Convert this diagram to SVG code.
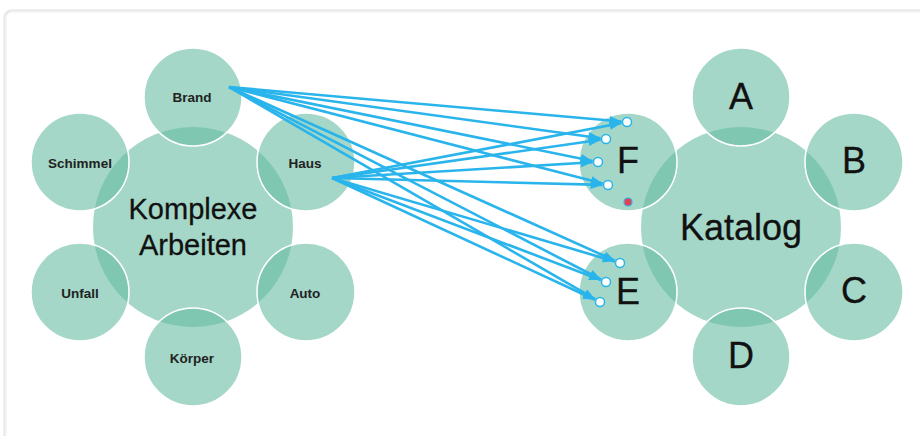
<svg xmlns="http://www.w3.org/2000/svg" width="920" height="436" viewBox="0 0 920 436">
  <defs>
    <style>
      .main { fill: #68bda2; fill-opacity: 0.6; }
      .sat { fill: #68bda2; fill-opacity: 0.6; stroke: #ffffff; stroke-width: 1.5; }
      .big { font-family: "Liberation Sans", Arial, sans-serif; font-size: 29px; fill: #111; text-anchor: middle; stroke: #111; stroke-width: 0.3; }
      .cat { font-family: "Liberation Sans", Arial, sans-serif; font-size: 36px; fill: #111; text-anchor: middle; stroke: #111; stroke-width: 0.3; }
      .small { font-family: "Liberation Sans", Arial, sans-serif; font-size: 13.5px; font-weight: bold; fill: #222; text-anchor: middle; }
      .link { stroke: #2ab4ec; stroke-width: 2.6; fill: none; marker-end: url(#head); }
      .port { fill: #ffffff; stroke: #2ab4ec; stroke-width: 1.5; }
      .port-red { fill: #e8404f; stroke: #2ab4ec; stroke-width: 1.2; }
    </style>
    <marker id="head" markerUnits="userSpaceOnUse" markerWidth="13" markerHeight="10" refX="12" refY="4.5" orient="auto">
      <path d="M0,0 L12,4.5 L0,9 z" fill="#2ab4ec"/>
    </marker>
  </defs>

  <rect width="920" height="436" fill="#ffffff"/>
  <!-- page frame -->
  <rect x="4.5" y="10.5" width="940" height="450" rx="7" fill="none" stroke="#e6e6e6" stroke-width="2"/>
  <rect x="6" y="12" width="940" height="450" rx="6" fill="none" stroke="#f3f3f3" stroke-width="1.5"/>

  <!-- left cluster -->
  <g id="komplexe-arbeiten">
    <circle class="main" cx="193" cy="227" r="100"/>
    <text class="big" x="193" y="219">Komplexe</text>
    <text class="big" x="193" y="255">Arbeiten</text>
  </g>
  <g id="brand">
    <circle class="sat" cx="193" cy="97" r="49"/>
    <text class="small" x="192" y="102">Brand</text>
  </g>
  <g id="haus">
    <circle class="sat" cx="306" cy="162" r="49"/>
    <text class="small" x="305" y="168">Haus</text>
  </g>
  <g id="auto">
    <circle class="sat" cx="306" cy="292" r="49"/>
    <text class="small" x="305" y="298">Auto</text>
  </g>
  <g id="koerper">
    <circle class="sat" cx="193" cy="357" r="49"/>
    <text class="small" x="192" y="363">Körper</text>
  </g>
  <g id="unfall">
    <circle class="sat" cx="80" cy="292" r="49"/>
    <text class="small" x="80" y="298">Unfall</text>
  </g>
  <g id="schimmel">
    <circle class="sat" cx="80" cy="162" r="49"/>
    <text class="small" x="80" y="168">Schimmel</text>
  </g>

  <!-- right cluster -->
  <g id="katalog">
    <circle class="main" cx="741" cy="227" r="100"/>
    <text class="cat" x="741" y="240">Katalog</text>
  </g>
  <g id="a">
    <circle class="sat" cx="741" cy="97" r="49"/>
    <text class="cat" x="741" y="109">A</text>
  </g>
  <g id="b">
    <circle class="sat" cx="854" cy="162" r="49"/>
    <text class="cat" x="854" y="173">B</text>
  </g>
  <g id="c">
    <circle class="sat" cx="854" cy="292" r="49"/>
    <text class="cat" x="854" y="303">C</text>
  </g>
  <g id="d">
    <circle class="sat" cx="741" cy="357" r="49"/>
    <text class="cat" x="741" y="368">D</text>
  </g>
  <g id="e">
    <circle class="sat" cx="628" cy="292" r="49"/>
    <text class="cat" x="628" y="304">E</text>
  </g>
  <g id="f">
    <circle class="sat" cx="628" cy="162" r="49"/>
    <text class="cat" x="628" y="173">F</text>
  </g>

  <!-- connectors: Brand and Haus to every port on F and E -->
  <g id="connectors">
    <line class="link" x1="229" y1="87" x2="621.5" y2="121.5"/>
    <line class="link" x1="229" y1="87" x2="600.6" y2="138.2"/>
    <line class="link" x1="229" y1="87" x2="592.6" y2="160.9"/>
    <line class="link" x1="229" y1="87" x2="602.7" y2="183.6"/>
    <line class="link" x1="229" y1="87" x2="615.0" y2="260.7"/>
    <line class="link" x1="229" y1="87" x2="601.1" y2="279.5"/>
    <line class="link" x1="229" y1="87" x2="595.2" y2="299.2"/>
    <line class="link" x1="332" y1="178" x2="621.6" y2="123.0"/>
    <line class="link" x1="332" y1="178" x2="600.6" y2="139.8"/>
    <line class="link" x1="332" y1="178" x2="592.5" y2="162.3"/>
    <line class="link" x1="332" y1="178" x2="602.5" y2="184.9"/>
    <line class="link" x1="332" y1="178" x2="614.7" y2="261.4"/>
    <line class="link" x1="332" y1="178" x2="600.9" y2="280.0"/>
    <line class="link" x1="332" y1="178" x2="595.0" y2="299.7"/>
  </g>

  <!-- connection ports -->
  <g id="ports">
    <circle class="port" cx="627" cy="122" r="4.5"/>
    <circle class="port" cx="606" cy="139" r="4.5"/>
    <circle class="port" cx="598" cy="162" r="4.5"/>
    <circle class="port" cx="608" cy="185" r="4.5"/>
    <circle class="port-red" cx="628" cy="202" r="4"/>
    <circle class="port" cx="620" cy="263" r="4.5"/>
    <circle class="port" cx="606" cy="282" r="4.5"/>
    <circle class="port" cx="600" cy="302" r="4.5"/>
  </g>
</svg>
